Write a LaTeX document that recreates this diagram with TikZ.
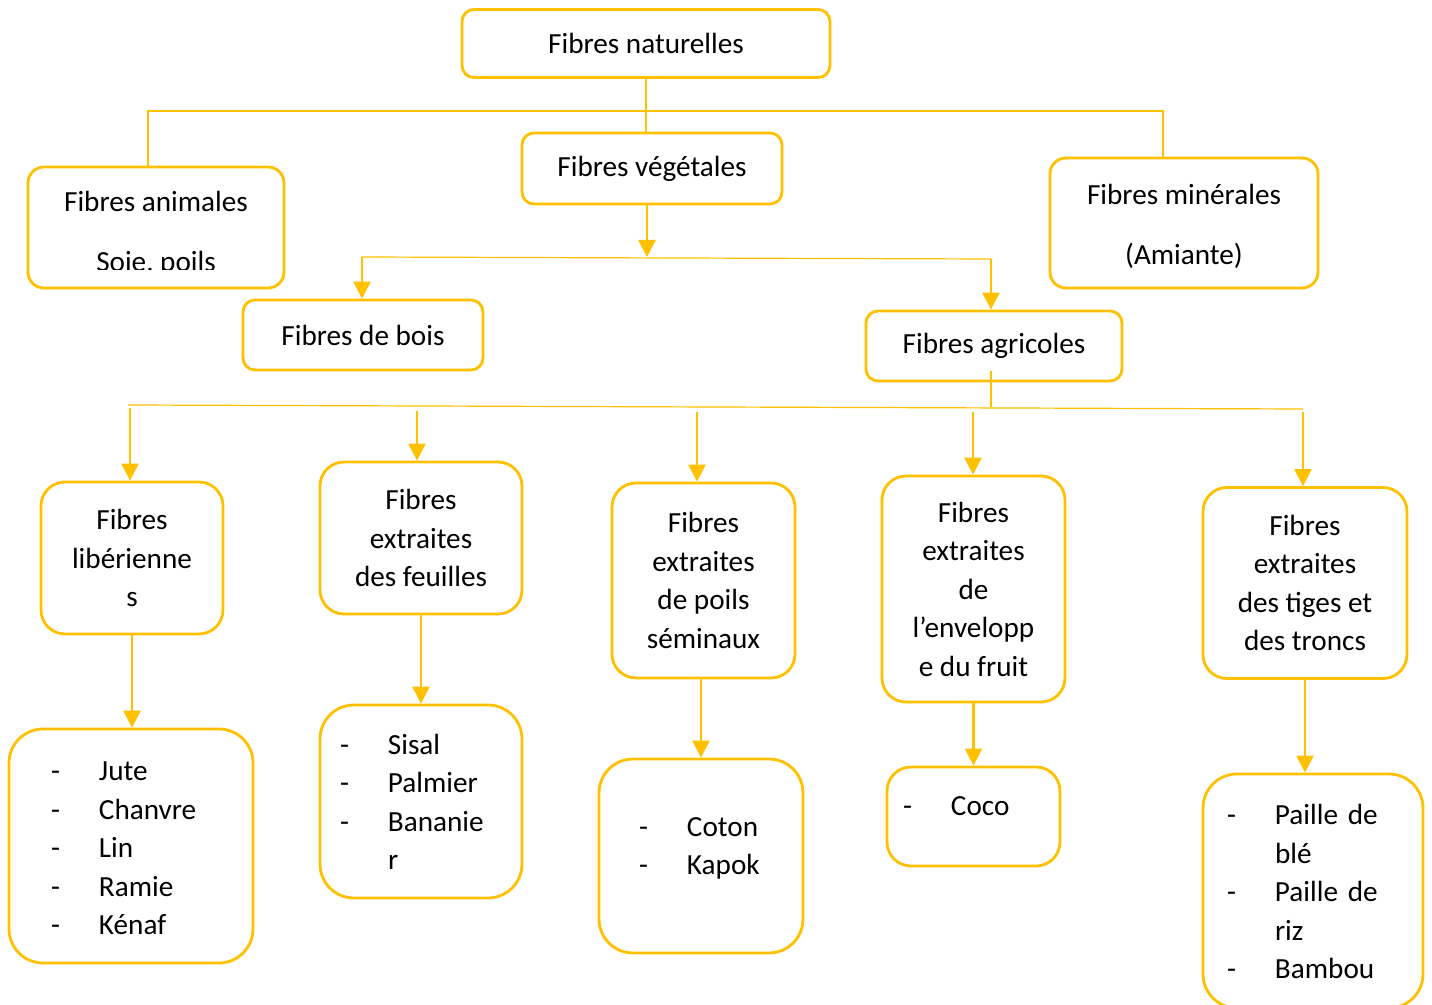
\documentclass[tikz,border=0pt]{standalone}
\usepackage{fontspec}
\setmainfont{Carlito}
\usepackage{xcolor}
\usepackage{tikz}
\usetikzlibrary{arrows.meta, calc}
\definecolor{gold}{RGB}{255,192,0}
\newcommand{\txtsize}{\fontsize{14.6}{19.25}\selectfont}

\begin{document}
\begin{tikzpicture}[
    x=0.5pt, y=-0.5pt,
    box/.style={rectangle, rounded corners=6pt, draw=gold, line width=1.4pt, align=center, font=\txtsize, inner sep=0pt},
    rbox/.style={box, rounded corners=12pt},
    lbox/.style={box, rounded corners=17pt, align=left},
    link/.style={draw=gold, line width=0.6pt},
    arrow/.style={-{Triangle[width=8.5pt,length=8.5pt]}, draw=gold, line width=1.2pt}
]
\useasboundingbox (0,0) rectangle (1432,1005);

\node[box, minimum width=184pt, minimum height=34pt] (nat) at (646,43.5) {Fibres naturelles};
\node[box, rounded corners=8pt, minimum width=128pt, minimum height=60.5pt] (anim) at (156,227.5) {};
\begin{scope}
\clip (anim.north west) rectangle (284,270);
\node[font=\txtsize, align=center] (animtxt) at (156,234) {Fibres animales\\[10.75pt]Soie, poils};
\end{scope}
\node[box, minimum width=130pt, minimum height=35.5pt] (veg) at (652,168.5) {Fibres végétales};
\node[box, rounded corners=8pt, minimum width=134pt, minimum height=65pt] (min) at (1184,223) {};
\node[font=\txtsize, align=center] (mintxt) at (1184,226) {Fibres minérales\\[10.75pt](Amiante)};
\node[box, minimum width=120pt, minimum height=35pt] (bois) at (363,335) {Fibres de bois};
\node[box, minimum width=128pt, minimum height=35pt] (agri) at (994,346) {Fibres agricoles};

\node[rbox, minimum width=91pt, minimum height=76pt] (lib) at (132,558) {Fibres\\libérienne\\s};
\node[rbox, minimum width=101pt, minimum height=76pt] (feu) at (421,538) {Fibres\\extraites\\des feuilles};
\node[rbox, minimum width=91.5pt, minimum height=97.5pt] (sem) at (703.5,580.5) {Fibres\\extraites\\de poils\\séminaux};
\node[rbox, minimum width=91.5pt, minimum height=113pt] (fruit) at (973.5,589) {Fibres\\extraites\\de\\l’envelopp\\e du fruit};
\node[rbox, minimum width=102pt, minimum height=95.5pt] (tige) at (1305,583) {Fibres\\extraites\\des tiges et\\des troncs};

\node[lbox, minimum width=122pt, minimum height=117pt, text width=80pt, inner xsep=21pt] (l1) at (131,846)
    {\begin{tabular}{@{}p{24pt}@{}l@{}}-&Jute\\-&Chanvre\\-&Lin\\-&Ramie\\-&Kénaf\\[-4pt]\end{tabular}};
\node[lbox, minimum width=101pt, minimum height=96.5pt, text width=81pt, inner xsep=10pt] (l2) at (421,801.5)
    {\begin{tabular}{@{}p{24pt}@{}l@{}}-&Sisal\\-&Palmier\\-&Bananie\\&r\\[-3pt]\end{tabular}};
\node[lbox, minimum width=102pt, minimum height=97pt, text width=62pt, inner xsep=20pt] (l3) at (701,856)
    {\begin{tabular}{@{}p{24pt}@{}l@{}}-&Coton\\-&Kapok\\[8pt]\end{tabular}};
\node[lbox, rounded corners=12pt, minimum width=86.5pt, minimum height=49.5pt, text width=70.5pt, inner xsep=8pt] (l4) at (973.5,816.5)
    {\begin{tabular}{@{}p{24pt}@{}l@{}}-&Coco\\[8.5pt]\end{tabular}};
\node[lbox, minimum width=110pt, minimum height=117pt, text width=86pt, inner xsep=12pt] (l5) at (1313,891)
    {\begin{tabular}{@{}p{24pt}@{}l@{}}-&Paille de\\&blé\\-&Paille de\\&riz\\-&Bambou\\[-3pt]\end{tabular}};

% naturelles -> branches
\coordinate (h1w) at (148,111);
\coordinate (h1e) at (1163,111);
\draw[link] (nat.south) -- (nat.south |- veg.north);
\draw[link] (anim.north -| h1w) -- (h1w) -- (h1e) -- (min.north -| h1e);

% vegetales -> bois, agricoles
\coordinate (h2) at (647,257);
\coordinate (h2w) at (362,257);
\coordinate (h2e) at (991,259);
\draw[arrow] (veg.south -| h2) -- (h2);
\draw[link] (h2w) -- (h2e);
\draw[arrow] (h2w) -- (bois.north -| h2w);
\draw[arrow] (h2e) -- (agri.north -| h2e);

% agricoles -> familles
\coordinate (h3) at (991,407);
\draw[link] ($(agri.south -| h3)+(0,-11)$) -- (h3);
\draw[link] (128,405) -- (1303,409);
\foreach \n/\x/\y in {lib/130/408, feu/417/411, sem/697/412, fruit/973/412, tige/1303/412}{
    \coordinate (t\n) at (\x,\y);
    \draw[arrow] (t\n) -- (t\n |- \n.north);
}

% familles -> exemples
\draw[arrow] (lib.south) -- (lib.south |- l1.north);
\draw[arrow] (feu.south) -- (l2.north);
\draw[arrow] (sem.south -| l3.north) -- (l3.north);
\draw[arrow] (fruit.south) -- (l4.north);
\draw[arrow] (tige.south) -- (tige.south |- l5.north);

\end{tikzpicture}
\end{document}
